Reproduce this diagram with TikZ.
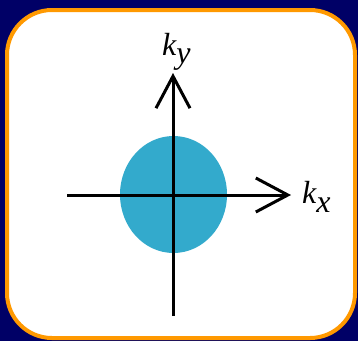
\documentclass[tikz,border=0pt]{standalone}
\usepackage{fontspec}
\setmainfont{Liberation Serif}
\usetikzlibrary{arrows.meta}
\definecolor{navy}{HTML}{000066}
\definecolor{framecol}{HTML}{FF9900}
\definecolor{disc}{HTML}{33AACC}
\begin{document}
\begin{tikzpicture}[x=1pt,y=-1pt,
  axisline/.style={line width=3pt,-{Straight Barb[length=32pt,width=34pt,line width=3pt]}},
  lbl/.style={inner sep=0pt,anchor=base west,font=\fontsize{32}{32}\selectfont\itshape}]
\useasboundingbox (0,0) rectangle (358,341);
\fill[navy] (0,0) rectangle (358,341);
\draw[framecol,line width=4pt,fill=white,rounded corners=45pt] (7,10) rectangle (355,338);
\fill[disc] (173.5,194.5) ellipse [x radius=53.5, y radius=58.5];
\coordinate (xs) at (67,195);
\coordinate (xe) at (291,195);
\coordinate (ys) at (173,316);
\coordinate (ye) at (173,73);
\draw[axisline] (xs) -- (xe);
\draw[axisline] (ys) -- (ye);
\node[lbl] (kx) at (302,203) {k\raisebox{-9pt}{x}};
\node[lbl] (ky) at (162,55) {k\raisebox{-8pt}{y}};
\end{tikzpicture}
\end{document}
